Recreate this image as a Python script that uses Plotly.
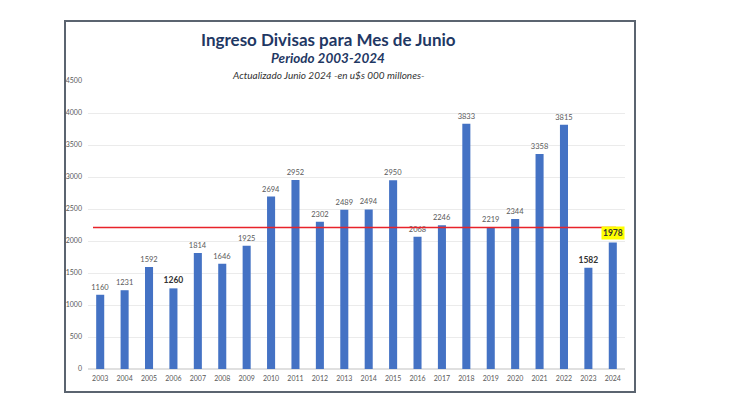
import plotly.graph_objects as go

# ---- data ----
years = ["2003", "2004", "2005", "2006", "2007", "2008", "2009", "2010", "2011", "2012", "2013",
         "2014", "2015", "2016", "2017", "2018", "2019", "2020", "2021", "2022", "2023", "2024"]
values = [1160, 1231, 1592, 1260, 1814, 1646, 1925, 2694, 2952, 2302, 2489,
          2494, 2950, 2068, 2246, 3833, 2219, 2344, 3358, 3815, 1582, 1978]
bold_years = ["2006", "2023"]
highlight_year = "2024"
reference_value = 2210
y_ticks = [0, 500, 1000, 1500, 2000, 2500, 3000, 3500, 4000, 4500]

title1 = "Ingreso Divisas para Mes de Junio"
title2 = "Periodo 2003-2024"
title3 = "Actualizado Junio 2024 -en u$s 000 millones-"

# ---- layout constants (pixels, in window coordinates) ----
OFF = 8  # page body margin
W, H = 730 - OFF, 394 - OFF
PL, PR, PT, PB = 88, 625, 81, 369  # plot area in window pixels
pw, ph = PR - PL, PB - PT


def px_x(x):
    return (x - PL) / pw


def px_y(y):
    return (PB - y) / ph


FONT = "Lato, 'Open Sans', sans-serif"
NAVY = "#1F3864"

labels, label_colors, label_sizes = [], [], []
for yr, v in zip(years, values):
    if yr == highlight_year:
        labels.append("")
    elif yr in bold_years:
        labels.append(f"<b>{v}</b>")
    else:
        labels.append(str(v))
    label_colors.append("#333333" if yr in bold_years else "#595959")
    label_sizes.append(8.5 if yr in bold_years else 7.5)

fig = go.Figure()
fig.add_trace(go.Bar(
    x=years, y=values,
    marker=dict(color="#4472C4", line=dict(width=0)),
    text=labels, textposition="outside", constraintext="none",
    textfont=dict(family=FONT, color=label_colors, size=label_sizes),
    cliponaxis=False, hoverinfo="skip",
))

# highlighted label
hi_idx = years.index(highlight_year)
fig.add_annotation(
    x=hi_idx, y=values[hi_idx], xref="x", yref="y",
    text=f"<b>{values[hi_idx]}</b>", showarrow=False, yanchor="bottom", yshift=2,
    font=dict(family=FONT, size=8.5, color="#333333"), bgcolor="#FFFF00", borderpad=1,
)

# reference line
fig.add_shape(type="line", xref="paper", yref="y",
              x0=px_x(93), x1=px_x(616), y0=reference_value, y1=reference_value,
              line=dict(color="#E8232A", width=1.6), layer="above")

# frame
fig.add_shape(type="rect", xref="paper", yref="paper",
              x0=px_x(65), x1=px_x(635), y0=px_y(392), y1=px_y(21),
              line=dict(color="#5B6470", width=2), layer="below")

cx = px_x(328)
fig.add_annotation(x=cx, y=px_y(40), xref="paper", yref="paper", text=f"<b>{title1}</b>",
                   showarrow=False, font=dict(family=FONT, size=17, color=NAVY), yanchor="middle")
fig.add_annotation(x=cx, y=px_y(58), xref="paper", yref="paper", text=f"<b><i>{title2}</i></b>",
                   showarrow=False, font=dict(family=FONT, size=13.5, color=NAVY), yanchor="middle")
fig.add_annotation(x=cx, y=px_y(75), xref="paper", yref="paper", text=f"<i>{title3}</i>",
                   showarrow=False, font=dict(family=FONT, size=10, color="#333333"), yanchor="middle")

fig.update_layout(
    width=W, height=H,
    margin=dict(l=PL - OFF, r=(W + OFF) - PR, t=PT - OFF, b=(H + OFF) - PB, pad=0),
    paper_bgcolor="white", plot_bgcolor="white",
    bargap=0.67, showlegend=False,
    xaxis=dict(type="category", range=[-0.5, len(years) - 0.5], showgrid=False, showline=False,
               ticks="", ticklabelstandoff=4,
               tickfont=dict(family=FONT, size=7, color="#595959")),
    yaxis=dict(range=[0, 4500], tickvals=y_ticks, showgrid=True, gridcolor="#EBEBEB", gridwidth=1,
               zeroline=True, zerolinecolor="#E0E0E0", showline=False, ticks="",
               ticklabelstandoff=5,
               tickfont=dict(family=FONT, size=7, color="#595959")),
)

fig.write_html("out.html")
